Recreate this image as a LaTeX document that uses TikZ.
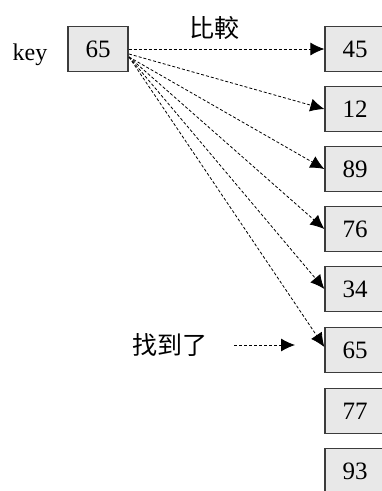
\documentclass[tikz,border=0pt]{standalone}
\usepackage{fontspec}
\setmainfont{Liberation Serif}
\newfontfamily\cjk{Noto Sans CJK TC}
\definecolor{boxfill}{RGB}{232,232,232}
\definecolor{boxline}{RGB}{60,60,60}
\usetikzlibrary{arrows.meta}
\tikzstyle{cell}=[rectangle,draw=boxline,fill=boxfill,line width=1.3pt,minimum width=60pt,minimum height=45pt,inner sep=0pt,font=\fontsize{25}{30}\selectfont]
\tikzstyle{note}=[font=\fontsize{25}{30}\selectfont\cjk]
\tikzstyle{edge} = [draw,line width=0.8pt,dash pattern=on 3pt off 2pt,-{Latex[length=14pt,width=13pt]}]

\begin{document}
\begin{tikzpicture}[x=1pt,y=-1pt]

            \path [use as bounding box] (0,0) rectangle (382,491);
            \clip (0,0) rectangle (382,491);

            \node[font=\fontsize{24}{28}\selectfont,anchor=base] (keytext) at (30,60) {key};
            \node[cell] (key) at (98,49) {65};

            \node[cell] (b1) at (355,49) {45};
            \node[cell] (b2) at (355,109) {12};
            \node[cell] (b3) at (355,169) {89};
            \node[cell] (b4) at (355,229) {76};
            \node[cell] (b5) at (355,289) {34};
            \node[cell] (b6) at (355,350) {65};
            \node[cell] (b7) at (355,411) {77};
            \node[cell] (b8) at (355,471) {93};

            \node[note] (cmp) at (214,28) {比較};
            \node[note] (found) at (170,345) {找到了};
            \coordinate (fan) at (129,57);
            \coordinate (hit) at (234,345);

            \path[edge] (key.east) -- (b1.west);
            \path[edge] (129,54) -- (b2.west);
            \path[edge] (fan) -- (b3.west);
            \path[edge] (fan) -- (b4.west);
            \path[edge] (fan) -- (b5.west);
            \path[edge] (fan) -- ([yshift=3pt]b6.west);
            \path[edge] (hit) -- (295,345);

        \end{tikzpicture}
\end{document}
